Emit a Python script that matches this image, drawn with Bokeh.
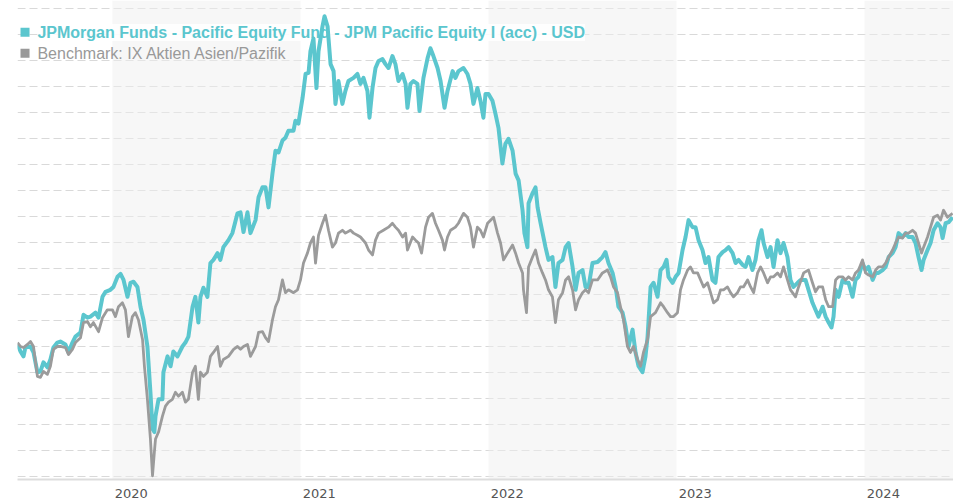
from bokeh.plotting import figure
from bokeh.models import (FixedTicker, CustomJSTickFormatter, BoxAnnotation, Label,
                          ColumnDataSource)
from bokeh.embed import file_html
from bokeh.resources import INLINE

# ---- data (decimal years, indexed values) ----
fund_dates = [
    2019.495, 2019.511, 2019.527, 2019.537, 2019.564, 2019.580, 2019.601, 2019.617, 2019.633, 2019.654,
    2019.670, 2019.686, 2019.707, 2019.723, 2019.750, 2019.766, 2019.787, 2019.803, 2019.830, 2019.846,
    2019.867, 2019.883, 2019.910, 2019.926, 2019.947, 2019.963, 2019.989, 2020.005, 2020.027, 2020.043,
    2020.059, 2020.080, 2020.096, 2020.112, 2020.133, 2020.149, 2020.165, 2020.186, 2020.202, 2020.213,
    2020.223, 2020.229, 2020.245, 2020.266, 2020.271, 2020.293, 2020.309, 2020.324, 2020.346, 2020.372,
    2020.388, 2020.404, 2020.426, 2020.441, 2020.457, 2020.468, 2020.484, 2020.505, 2020.521, 2020.537,
    2020.559, 2020.574, 2020.590, 2020.617, 2020.638, 2020.665, 2020.681, 2020.697, 2020.718, 2020.734,
    2020.761, 2020.777, 2020.798, 2020.814, 2020.830, 2020.851, 2020.867, 2020.883, 2020.904, 2020.920,
    2020.936, 2020.963, 2020.973, 2020.989, 2021.011, 2021.027, 2021.043, 2021.053, 2021.069, 2021.085,
    2021.096, 2021.117, 2021.128, 2021.144, 2021.160, 2021.176, 2021.186, 2021.202, 2021.223, 2021.239,
    2021.255, 2021.282, 2021.303, 2021.319, 2021.335, 2021.356, 2021.367, 2021.383, 2021.399, 2021.415,
    2021.436, 2021.452, 2021.468, 2021.489, 2021.505, 2021.521, 2021.543, 2021.559, 2021.569, 2021.585,
    2021.601, 2021.622, 2021.633, 2021.654, 2021.676, 2021.691, 2021.707, 2021.729, 2021.745, 2021.766,
    2021.782, 2021.809, 2021.824, 2021.840, 2021.867, 2021.888, 2021.904, 2021.920, 2021.941, 2021.957,
    2021.973, 2021.984, 2022.000, 2022.021, 2022.037, 2022.053, 2022.074, 2022.090, 2022.106, 2022.128,
    2022.144, 2022.160, 2022.181, 2022.191, 2022.207, 2022.213, 2022.234, 2022.250, 2022.261, 2022.277,
    2022.303, 2022.319, 2022.340, 2022.356, 2022.372, 2022.394, 2022.410, 2022.426, 2022.447, 2022.463,
    2022.479, 2022.500, 2022.516, 2022.532, 2022.553, 2022.580, 2022.606, 2022.622, 2022.638, 2022.660,
    2022.676, 2022.691, 2022.713, 2022.729, 2022.745, 2022.766, 2022.782, 2022.798, 2022.819, 2022.835,
    2022.846, 2022.862, 2022.878, 2022.899, 2022.915, 2022.931, 2022.947, 2022.957, 2022.979, 2022.995,
    2023.011, 2023.032, 2023.048, 2023.064, 2023.085, 2023.101, 2023.117, 2023.138, 2023.154, 2023.170,
    2023.191, 2023.207, 2023.223, 2023.245, 2023.261, 2023.277, 2023.298, 2023.314, 2023.330, 2023.351,
    2023.367, 2023.383, 2023.404, 2023.420, 2023.436, 2023.452, 2023.463, 2023.484, 2023.500, 2023.516,
    2023.537, 2023.553, 2023.569, 2023.590, 2023.606, 2023.622, 2023.644, 2023.660, 2023.686, 2023.702,
    2023.723, 2023.739, 2023.755, 2023.777, 2023.793, 2023.809, 2023.824, 2023.835, 2023.846, 2023.862,
    2023.883, 2023.899, 2023.915, 2023.936, 2023.952, 2023.968, 2023.989, 2024.005, 2024.021, 2024.043,
    2024.059, 2024.074, 2024.096, 2024.112, 2024.128, 2024.149, 2024.165, 2024.181, 2024.202, 2024.218,
    2024.234, 2024.255, 2024.271, 2024.287, 2024.303, 2024.314, 2024.335, 2024.351, 2024.367, 2024.388,
    2024.404, 2024.415, 2024.431, 2024.447, 2024.468,
]
fund_values = [
    100.8, 98.1, 96.2, 99.6, 100.0, 97.7, 90.1, 90.4, 93.9, 92.0,
    95.0, 99.6, 101.5, 101.9, 100.8, 97.7, 101.5, 103.8, 105.4, 112.2,
    111.1, 111.5, 113.0, 111.1, 119.1, 121.0, 121.8, 122.9, 126.8, 127.9,
    125.6, 119.1, 124.5, 124.9, 122.9, 115.3, 110.3, 100.0, 82.4, 68.3,
    67.1, 73.2, 79.7, 79.7, 90.1, 96.2, 92.4, 98.1, 96.2, 100.0,
    101.5, 103.8, 115.3, 119.1, 109.2, 119.1, 122.6, 119.1, 132.1, 133.3,
    135.9, 133.3, 138.2, 140.9, 143.6, 151.2, 151.6, 144.0, 151.6, 143.6,
    148.6, 157.4, 161.2, 161.2, 153.5, 166.5, 175.3, 174.6, 179.2, 180.3,
    183.0, 183.0, 186.8, 185.7, 195.6, 204.8, 205.2, 213.6, 218.5, 199.4,
    213.6, 223.1, 227.0, 223.1, 208.6, 205.9, 193.3, 202.1, 193.3, 198.3,
    202.1, 203.3, 204.8, 201.0, 203.3, 198.3, 188.0, 199.4, 207.1, 209.8,
    210.5, 208.6, 207.1, 211.7, 208.6, 202.1, 204.8, 201.0, 191.8, 201.0,
    202.1, 201.0, 190.6, 203.3, 210.9, 214.7, 211.7, 207.1, 202.1, 191.8,
    198.3, 205.9, 203.3, 205.9, 207.1, 204.8, 201.0, 193.3, 199.4, 194.5,
    188.0, 197.1, 197.1, 194.5, 189.5, 184.1, 170.4, 178.0, 179.9, 175.3,
    166.5, 163.9, 152.4, 143.6, 138.2, 155.1, 158.9, 161.2, 153.5, 147.4,
    138.2, 133.3, 134.4, 122.9, 132.1, 133.3, 138.2, 139.8, 130.6, 121.8,
    128.3, 129.4, 122.9, 122.9, 132.1, 132.5, 134.4, 136.3, 132.1, 128.3,
    122.9, 115.3, 113.0, 107.6, 100.0, 106.5, 97.7, 92.4, 90.1, 96.2,
    103.8, 122.9, 124.5, 119.1, 129.4, 130.6, 133.3, 126.8, 124.5, 126.8,
    128.3, 137.1, 142.1, 148.6, 145.9, 145.9, 140.9, 137.1, 132.1, 134.4,
    125.6, 124.5, 134.4, 136.3, 137.1, 138.2, 135.9, 132.1, 133.3, 131.4,
    130.6, 134.4, 129.4, 133.3, 140.9, 144.7, 139.8, 134.4, 138.2, 130.6,
    140.9, 135.9, 139.8, 134.4, 125.6, 122.9, 124.5, 125.6, 125.6, 121.8,
    116.8, 114.1, 111.5, 115.3, 111.5, 109.2, 107.3, 111.5, 121.8, 119.1,
    125.6, 124.5, 124.5, 119.1, 125.6, 126.8, 132.1, 129.4, 130.6, 125.6,
    128.3, 128.3, 129.4, 130.6, 134.4, 135.9, 138.2, 143.6, 142.1, 143.6,
    142.1, 142.1, 139.8, 134.4, 129.4, 133.3, 137.1, 139.8, 144.7, 147.4,
    145.9, 141.7, 147.4, 147.8, 149.7,
]

bench_dates = [
    2019.495, 2019.511, 2019.527, 2019.548, 2019.564, 2019.580, 2019.601, 2019.617, 2019.633, 2019.654,
    2019.670, 2019.686, 2019.707, 2019.723, 2019.750, 2019.766, 2019.787, 2019.803, 2019.830, 2019.846,
    2019.867, 2019.883, 2019.899, 2019.926, 2019.947, 2019.973, 2020.000, 2020.016, 2020.032, 2020.053,
    2020.069, 2020.085, 2020.106, 2020.122, 2020.138, 2020.160, 2020.170, 2020.186, 2020.202, 2020.213,
    2020.223, 2020.229, 2020.245, 2020.266, 2020.282, 2020.298, 2020.319, 2020.335, 2020.351, 2020.372,
    2020.388, 2020.404, 2020.426, 2020.441, 2020.457, 2020.468, 2020.484, 2020.505, 2020.521, 2020.537,
    2020.559, 2020.574, 2020.590, 2020.617, 2020.644, 2020.665, 2020.681, 2020.697, 2020.718, 2020.734,
    2020.761, 2020.777, 2020.798, 2020.814, 2020.830, 2020.851, 2020.867, 2020.883, 2020.904, 2020.920,
    2020.936, 2020.963, 2020.984, 2021.000, 2021.016, 2021.037, 2021.053, 2021.069, 2021.080, 2021.096,
    2021.117, 2021.133, 2021.149, 2021.170, 2021.186, 2021.202, 2021.223, 2021.239, 2021.266, 2021.282,
    2021.303, 2021.319, 2021.346, 2021.362, 2021.383, 2021.399, 2021.415, 2021.441, 2021.468, 2021.489,
    2021.505, 2021.521, 2021.543, 2021.559, 2021.569, 2021.596, 2021.612, 2021.628, 2021.644, 2021.665,
    2021.681, 2021.702, 2021.718, 2021.734, 2021.755, 2021.766, 2021.782, 2021.798, 2021.824, 2021.840,
    2021.867, 2021.888, 2021.904, 2021.920, 2021.941, 2021.957, 2021.973, 2021.995, 2022.027, 2022.048,
    2022.064, 2022.080, 2022.101, 2022.128, 2022.144, 2022.160, 2022.181, 2022.186, 2022.202, 2022.213,
    2022.234, 2022.250, 2022.266, 2022.287, 2022.303, 2022.319, 2022.340, 2022.356, 2022.372, 2022.394,
    2022.410, 2022.426, 2022.447, 2022.463, 2022.479, 2022.500, 2022.516, 2022.532, 2022.553, 2022.580,
    2022.606, 2022.633, 2022.649, 2022.665, 2022.686, 2022.702, 2022.718, 2022.739, 2022.755, 2022.771,
    2022.793, 2022.809, 2022.824, 2022.846, 2022.862, 2022.888, 2022.915, 2022.931, 2022.952, 2022.968,
    2022.984, 2023.005, 2023.021, 2023.037, 2023.059, 2023.074, 2023.090, 2023.112, 2023.128, 2023.144,
    2023.165, 2023.181, 2023.197, 2023.218, 2023.234, 2023.250, 2023.271, 2023.287, 2023.303, 2023.324,
    2023.340, 2023.356, 2023.378, 2023.394, 2023.410, 2023.431, 2023.447, 2023.463, 2023.484, 2023.500,
    2023.516, 2023.537, 2023.553, 2023.569, 2023.590, 2023.606, 2023.633, 2023.649, 2023.676, 2023.702,
    2023.723, 2023.739, 2023.755, 2023.777, 2023.793, 2023.809, 2023.830, 2023.846, 2023.862, 2023.883,
    2023.899, 2023.915, 2023.936, 2023.952, 2023.968, 2023.989, 2024.005, 2024.021, 2024.043, 2024.059,
    2024.074, 2024.096, 2024.112, 2024.128, 2024.149, 2024.165, 2024.181, 2024.202, 2024.218, 2024.234,
    2024.255, 2024.271, 2024.287, 2024.303, 2024.314, 2024.335, 2024.351, 2024.367, 2024.388, 2024.404,
    2024.420, 2024.441, 2024.468,
]
bench_values = [
    101.5, 100.0, 99.6, 100.8, 101.9, 100.0, 88.5, 88.1, 90.4, 89.3,
    92.4, 98.9, 100.0, 100.0, 99.6, 96.9, 98.9, 101.5, 103.4, 109.2,
    109.6, 107.6, 109.2, 105.7, 111.1, 114.1, 114.1, 111.5, 115.3, 116.8,
    114.1, 103.8, 111.5, 113.0, 110.3, 102.7, 92.4, 79.7, 64.4, 50.3,
    59.5, 64.4, 67.1, 73.2, 77.1, 78.6, 79.7, 82.4, 80.9, 82.4,
    78.6, 79.7, 90.1, 92.4, 79.7, 90.1, 88.5, 90.1, 96.2, 97.7,
    100.0, 92.4, 95.0, 96.2, 98.9, 100.0, 98.9, 100.0, 100.8, 96.2,
    100.0, 105.4, 105.7, 103.4, 101.9, 110.3, 115.3, 118.0, 125.6, 120.7,
    121.8, 120.7, 121.8, 125.6, 132.1, 135.9, 139.8, 142.1, 132.1, 142.8,
    147.4, 150.5, 144.7, 138.2, 139.8, 143.6, 144.7, 143.6, 144.7, 143.6,
    142.8, 142.1, 139.8, 137.1, 135.2, 140.9, 143.6, 144.7, 145.9, 147.4,
    145.9, 144.7, 142.1, 143.6, 137.1, 142.1, 140.9, 139.8, 135.9, 145.9,
    149.7, 151.2, 147.4, 144.7, 140.9, 137.1, 142.1, 144.7, 145.9, 147.4,
    151.2, 149.7, 145.9, 138.2, 145.9, 144.7, 142.1, 147.4, 149.7, 143.6,
    139.8, 133.3, 135.9, 139.0, 135.9, 132.1, 128.3, 121.8, 113.0, 130.6,
    134.4, 137.1, 132.1, 128.3, 125.6, 121.8, 119.1, 109.2, 118.0, 120.7,
    125.6, 126.8, 121.8, 114.1, 118.0, 120.7, 121.8, 120.7, 125.6, 125.6,
    128.3, 129.4, 126.8, 122.9, 120.7, 115.3, 110.3, 100.0, 97.7, 100.0,
    95.0, 92.4, 97.7, 102.7, 111.5, 113.0, 116.8, 115.3, 113.0, 111.5,
    111.5, 113.0, 121.8, 125.6, 129.4, 130.6, 128.3, 128.3, 125.6, 122.9,
    124.5, 120.7, 116.8, 118.0, 121.8, 121.8, 122.9, 120.7, 119.1, 120.7,
    122.9, 122.9, 125.6, 122.9, 120.7, 128.3, 130.6, 128.3, 124.5, 126.8,
    126.8, 128.3, 126.8, 130.6, 125.6, 121.8, 119.1, 122.9, 128.3, 129.4,
    124.5, 121.0, 122.9, 122.9, 118.0, 115.3, 115.3, 125.6, 126.8, 126.8,
    125.6, 126.8, 125.6, 128.3, 129.4, 133.3, 128.3, 127.5, 126.8, 129.4,
    130.6, 130.6, 132.1, 134.4, 137.1, 139.8, 142.1, 141.7, 143.6, 143.6,
    144.7, 143.6, 139.8, 135.9, 138.2, 142.1, 145.9, 149.7, 150.5, 148.6,
    152.4, 149.7, 151.2,
]

years = [2020, 2021, 2022, 2023, 2024]
tick_labels = ["2020", "2021", "2022", "2023", "2024"]
shaded_years = [2020, 2022, 2024]
grid_levels = list(range(50, 231, 10))

fund_name = "JPMorgan Funds - Pacific Equity Fund - JPM Pacific Equity I (acc) - USD"
bench_name = "Benchmark: IX Aktien Asien/Pazifik"

TEAL = "#5bc6ce"
GREY = "#9b9b9b"

x_start, x_end = 2019.495, 2024.473
y_start, y_end = 48.85, 233.06

p = figure(width=953, height=500, output_backend="svg", toolbar_location=None,
           x_range=(x_start, x_end), y_range=(y_start, y_end),
           min_border_left=17, min_border_right=0, min_border_top=0, min_border_bottom=19)
p.outline_line_color = None
p.background_fill_color = "white"
p.border_fill_color = "white"

# grid
p.xgrid.visible = False
p.ygrid.ticker = FixedTicker(ticks=grid_levels)
p.ygrid.grid_line_color = "#d9d9d9"
p.ygrid.grid_line_dash = "8 4"
p.ygrid.grid_line_width = 1
p.yaxis.visible = False

# year bands
for yr in shaded_years:
    p.add_layout(BoxAnnotation(left=yr, right=yr + 1, fill_color="#f0f0f0", fill_alpha=0.5,
                               line_color=None, level="underlay"))

# x axis
label_offset = 0.1
label_map = {y + label_offset: s for y, s in zip(years, tick_labels)}
p.xaxis.ticker = FixedTicker(ticks=list(label_map.keys()))
p.xaxis.formatter = CustomJSTickFormatter(code="return String(Math.floor(tick));")
p.xaxis.axis_line_color = "#dddddd"
p.xaxis.axis_line_width = 2
p.xaxis.major_tick_line_color = None
p.xaxis.minor_tick_line_color = None
p.xaxis.major_label_text_font = "DejaVu Sans"
p.xaxis.major_label_text_font_size = "13px"
p.xaxis.major_label_text_color = "#555555"
p.xaxis.major_label_standoff = 3

# legend (drawn beneath the lines)
leg_x = 2019.601
sq_l, sq_r = 2019.511, 2019.559
p.add_layout(Label(x=leg_x, y=220.8, text=fund_name, text_color=TEAL, text_font="Liberation Sans",
                   text_font_style="bold", text_font_size="16px", text_baseline="middle",
                   background_fill_color="white", background_fill_alpha=0.85, level="underlay"))
p.add_layout(Label(x=leg_x, y=212.8, text=bench_name, text_color="#999999", text_font="Liberation Sans",
                   text_font_size="16px", text_baseline="middle", level="underlay"))
p.add_layout(BoxAnnotation(left=sq_l, right=sq_r, bottom=219.12, top=222.56, fill_color=TEAL,
                           fill_alpha=1, line_color=None, level="underlay"))
p.add_layout(BoxAnnotation(left=sq_l, right=sq_r, bottom=211.09, top=214.53, fill_color="#999999",
                           fill_alpha=1, line_color=None, level="underlay"))

fund_src = ColumnDataSource(dict(x=fund_dates, y=fund_values))
bench_src = ColumnDataSource(dict(x=bench_dates, y=bench_values))
p.line("x", "y", source=fund_src, line_color=TEAL, line_width=4, line_join="round")
p.line("x", "y", source=bench_src, line_color=GREY, line_width=2.8, line_join="round")

open("out.html", "w").write(file_html(p, INLINE))
